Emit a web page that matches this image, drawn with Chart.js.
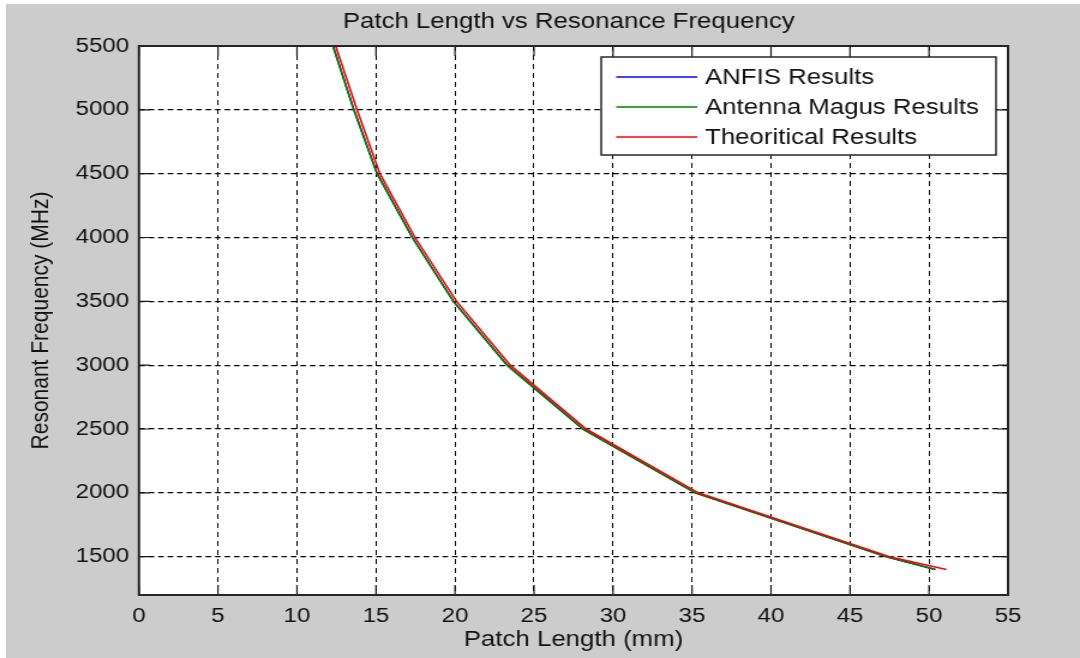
<!DOCTYPE html>
<html>
<head>
<meta charset="utf-8">
<title>Patch Length vs Resonance Frequency</title>
<script src="https://cdn.jsdelivr.net/npm/chart.js@4/dist/chart.umd.min.js"></script>
<style>
  html, body { margin: 0; padding: 0; background: #fff; }
  #figure { position: absolute; left: 6px; top: 4px; width: 1074px; height: 654px; background: #cccccc; overflow: hidden; }
  /* the figure is drawn narrow and widened, like the old screen capture it comes from */
  #chart { display: block; transform: scaleX(1.2); transform-origin: 0 0; }
</style>
</head>
<body>
<div id="figure"><canvas id="chart" width="895" height="654"></canvas></div>
<script>
// resonant frequency (MHz) for each patch length (mm)
const resonantFreq = [5500, 5000, 4500, 4000, 3500, 3000, 2500, 2000, 1500, 1400];
const anfisLength  = [12.28, 13.6, 15.07, 17.3, 19.9, 23.3, 28.1, 35.2, 47.3, 50.4];
const magusLength  = [12.28, 13.6, 15.07, 17.3, 19.9, 23.3, 28.1, 35.2, 47.3, 50.4];
const theoryLength = [12.45, 13.8, 15.25, 17.47, 20.1, 23.5, 28.3, 35.4, 47.5, 51.1];

const xTicks = [0, 5, 10, 15, 20, 25, 30, 35, 40, 45, 50, 55];
const yTicks = [1500, 2000, 2500, 3000, 3500, 4000, 4500, 5000, 5500];

const FONT = '"Liberation Sans", Arial, sans-serif';
const TEXT = '#111';

function points(lengths) {
  return lengths.map((x, i) => ({ x: x, y: resonantFreq[i] }));
}

// white axes box, inward ticks, title and legend, matlab style
const matlabFrame = {
  id: 'matlabFrame',
  beforeDraw(chart) {
    const { ctx, chartArea: a } = chart;
    ctx.save();
    ctx.fillStyle = '#fff';
    ctx.fillRect(a.left, a.top, a.right - a.left, a.bottom - a.top);
    ctx.restore();
  },
  afterDatasetsDraw(chart) {
    const { ctx, chartArea: a, scales } = chart;
    ctx.save();

    ctx.strokeStyle = '#1a1a1a';
    ctx.lineWidth = 1.2;
    ctx.beginPath();
    xTicks.forEach(v => {
      const px = scales.x.getPixelForValue(v);
      ctx.moveTo(px, a.bottom); ctx.lineTo(px, a.bottom - 10);
      ctx.moveTo(px, a.top); ctx.lineTo(px, a.top + 10);
    });
    yTicks.forEach(v => {
      const py = scales.y.getPixelForValue(v);
      ctx.moveTo(a.left, py); ctx.lineTo(a.left + 9, py);
      ctx.moveTo(a.right, py); ctx.lineTo(a.right - 9, py);
    });
    ctx.stroke();

    ctx.strokeStyle = '#262626';
    ctx.lineWidth = 2;
    ctx.strokeRect(a.left, a.top, a.right - a.left, a.bottom - a.top);

    // title
    ctx.fillStyle = TEXT;
    ctx.font = '21.5px ' + FONT;
    ctx.textAlign = 'center';
    ctx.textBaseline = 'middle';
    ctx.fillText('Patch Length vs Resonance Frequency', (a.left + a.right) / 2 - 4, 18);

    // legend box
    const lx = a.right - 339, rx = a.right - 10;
    const ty = a.top + 11, by = a.top + 109;
    ctx.fillStyle = '#fff';
    ctx.fillRect(lx, ty, rx - lx, by - ty);
    ctx.lineWidth = 1.5;
    ctx.strokeStyle = '#262626';
    ctx.strokeRect(lx, ty, rx - lx, by - ty);

    ctx.font = '21.5px ' + FONT;
    ctx.textAlign = 'left';
    chart.data.datasets.forEach((ds, i) => {
      const y = a.top + 31 + i * 30;
      ctx.strokeStyle = ds.borderColor;
      ctx.lineWidth = 1.5;
      ctx.beginPath();
      ctx.moveTo(lx + 12.5, y);
      ctx.lineTo(lx + 80, y);
      ctx.stroke();
      ctx.fillStyle = TEXT;
      ctx.fillText(ds.label, lx + 86.5, y + 1);
    });

    ctx.restore();
  }
};

new Chart(document.getElementById('chart'), {
  type: 'line',
  data: {
    // later series are plotted on top, as in the original plot
    datasets: [
      { label: 'ANFIS Results', data: points(anfisLength), borderColor: '#0000ff', order: 3 },
      { label: 'Antenna Magus Results', data: points(magusLength), borderColor: '#008000', order: 2 },
      { label: 'Theoritical Results', data: points(theoryLength), borderColor: '#ff0000', order: 1 }
    ]
  },
  options: {
    responsive: false,
    animation: false,
    events: [],
    layout: { padding: { top: 42, right: 60, bottom: 0, left: 0 } },
    elements: {
      line: { borderWidth: 1.6, tension: 0, fill: false },
      point: { radius: 0 }
    },
    plugins: {
      legend: { display: false },
      title: { display: false },
      tooltip: { enabled: false }
    },
    scales: {
      x: {
        type: 'linear',
        min: 0,
        max: 55,
        afterBuildTicks: s => { s.ticks = xTicks.map(v => ({ value: v })); },
        afterFit: s => { s.height = 63; },
        grid: { color: '#000', lineWidth: 1, drawTicks: false },
        border: { display: false, dash: [5, 4] },
        ticks: { padding: 9, color: TEXT, font: { family: FONT, size: 20 }, callback: v => v, maxRotation: 0 },
        title: { display: true, text: 'Patch Length (mm)', color: TEXT, font: { family: FONT, size: 21.5 }, padding: { top: 0, bottom: 5 } }
      },
      y: {
        type: 'linear',
        min: 1200,
        max: 5500,
        afterBuildTicks: s => { s.ticks = yTicks.map(v => ({ value: v })); },
        afterFit: s => { s.width = 110.8; },
        grid: { color: '#000', lineWidth: 1.2, drawTicks: false },
        border: { display: false, dash: [4.6, 3.3] },
        ticks: { padding: 8.3, color: TEXT, font: { family: FONT, size: 20 }, callback: v => v },
        title: { display: true, text: 'Resonant Frequency (MHz)', color: TEXT, font: { family: FONT, size: 21 }, padding: { top: 16.6, bottom: 0 } }
      }
    }
  },
  plugins: [matlabFrame]
});
</script>
</body>
</html>
